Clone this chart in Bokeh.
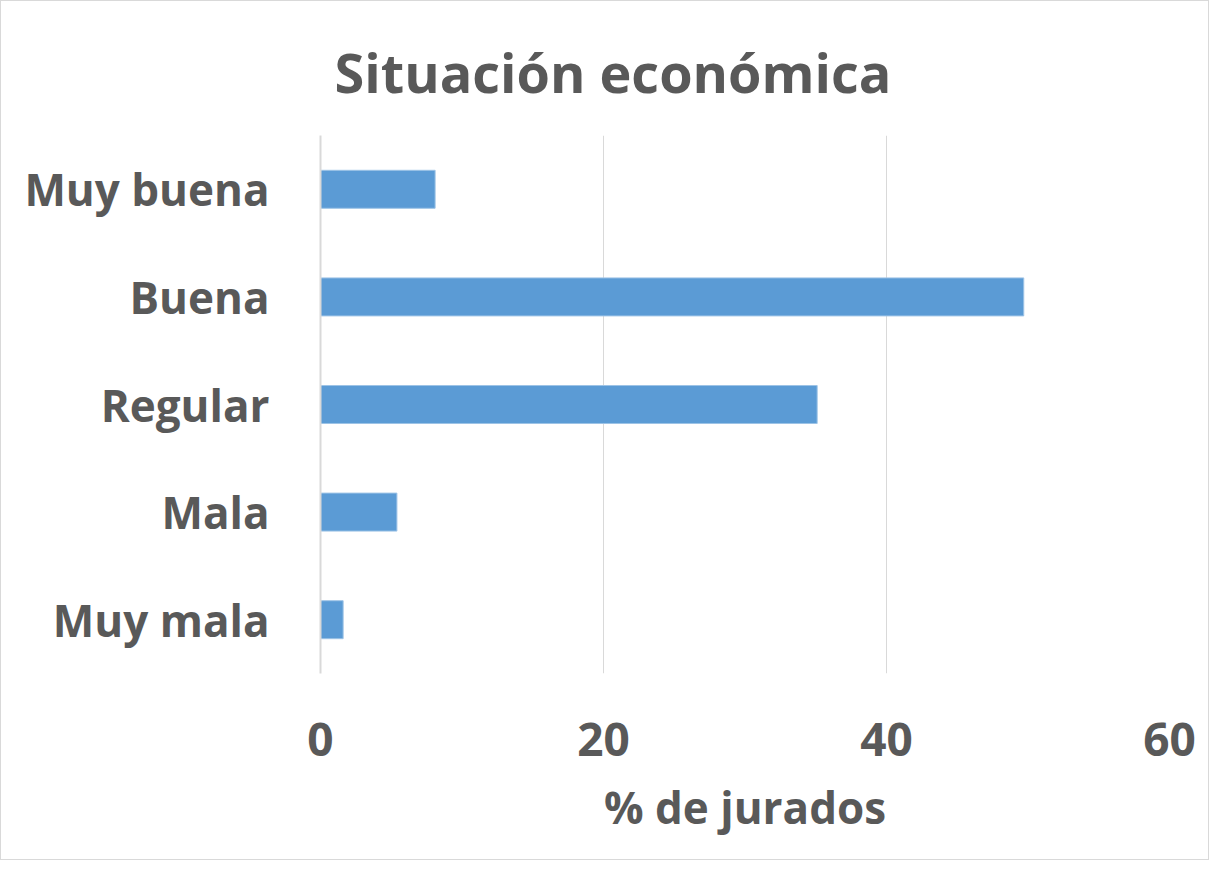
from bokeh.plotting import figure
from bokeh.models import FactorRange, Range1d, FixedTicker, Title, ColumnDataSource
from bokeh.embed import file_html
from bokeh.resources import INLINE

categories = ["Muy mala", "Mala", "Regular", "Buena", "Muy buena"]
percentages = [1.6, 5.4, 35.1, 49.7, 8.1]
x_ticks = [0, 20, 40, 60]
title_text = "Situación económica"
x_label = "% de jurados"

TEXT = "#595959"
BAR = "#5B9BD5"
GRID = "#D9D9D9"
FONT = "Open Sans"

src = ColumnDataSource(dict(cat=categories, val=percentages))

p = figure(
    width=1209, height=860,
    y_range=FactorRange(factors=categories, range_padding=0),
    x_range=Range1d(0, 60),
    output_backend="svg", toolbar_location=None,
    min_border_left=319, min_border_right=41,
    min_border_top=134, min_border_bottom=188,
)
p.hbar(y="cat", right="val", left=0, height=0.353, source=src,
       fill_color=BAR, line_color="#9DC3E6", line_width=1)

p.outline_line_color = None
p.ygrid.grid_line_color = None
p.xgrid.grid_line_color = GRID
p.xgrid.grid_line_width = 1
p.xaxis.ticker = FixedTicker(ticks=x_ticks)
p.xgrid.ticker = FixedTicker(ticks=x_ticks)

p.xaxis.axis_line_color = None
p.xaxis.major_tick_line_color = None
p.xaxis.minor_tick_line_color = None
p.xaxis.major_label_text_font = FONT
p.xaxis.major_label_text_font_style = "bold"
p.xaxis.major_label_text_font_size = "46px"
p.xaxis.major_label_text_color = TEXT
p.xaxis.major_label_standoff = 43
p.xaxis.axis_label = x_label
p.xaxis.axis_label_text_font = FONT
p.xaxis.axis_label_text_font_style = "bold"
p.xaxis.axis_label_text_font_size = "44px"
p.xaxis.axis_label_text_color = TEXT
p.xaxis.axis_label_standoff = 18

p.yaxis.axis_line_color = GRID
p.yaxis.axis_line_width = 2
p.yaxis.major_tick_line_color = None
p.yaxis.minor_tick_line_color = None
p.yaxis.major_label_text_font = FONT
p.yaxis.major_label_text_font_style = "bold"
p.yaxis.major_label_text_font_size = "44px"
p.yaxis.major_label_text_color = TEXT
p.yaxis.major_label_standoff = 45

title = Title(text=title_text, align="left", offset=14, standoff=54,
              vertical_align="bottom", text_font=FONT,
              text_font_style="bold", text_font_size="54px", text_color=TEXT)
p.add_layout(title, "above")

p.styles = {"border": "1px solid #D9D9D9"}

open("out.html", "w").write(file_html(p, INLINE))
